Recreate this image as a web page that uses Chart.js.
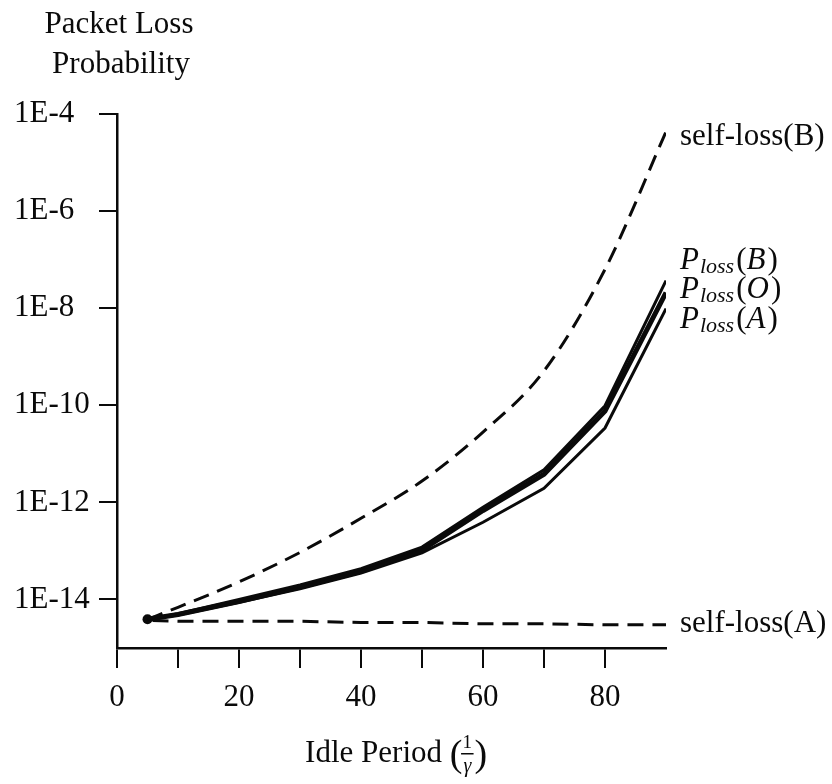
<!DOCTYPE html>
<html>
<head>
<meta charset="utf-8">
<script src="https://cdn.jsdelivr.net/npm/chart.js@4/dist/chart.umd.min.js"></script>
<style>
  html, body { margin: 0; padding: 0; background: #ffffff; }
  #wrap { width: 832px; height: 784px; }
</style>
</head>
<body>
<div id="wrap"><canvas id="chart" width="832" height="784"></canvas></div>
<script>
// Idle period (1/gamma) at which each loss probability was evaluated
const idlePeriod = [5, 10, 20, 30, 40, 50, 60, 70, 80, 90];

// Packet loss probabilities
const plossB    = [3.9e-15, 5.1e-15, 1.0e-14, 2.0e-14, 4.3e-14, 1.2e-13, 7.9e-13, 4.7e-12, 9.8e-11, 3.7e-8];
const plossO    = [3.9e-15, 4.9e-15, 9.1e-15, 1.8e-14, 3.8e-14, 1.05e-13, 6.8e-13, 3.8e-12, 7.6e-11, 2.1e-8];
const plossA    = [3.9e-15, 4.8e-15, 8.7e-15, 1.66e-14, 3.5e-14, 9.1e-14, 3.9e-13, 1.95e-12, 3.4e-11, 9.8e-9];
const selfLossB = [3.9e-15, 6.9e-15, 2.3e-14, 9.3e-14, 4.7e-13, 2.75e-12, 2.8e-11, 5.1e-10, 6.3e-8, 4.3e-5];
const selfLossA = [3.7e-15, 3.55e-15, 3.55e-15, 3.55e-15, 3.35e-15, 3.35e-15, 3.16e-15, 3.16e-15, 3.0e-15, 3.0e-15];

// Axis ticks
const yTickValues = [1e-4, 1e-6, 1e-8, 1e-10, 1e-12, 1e-14];
const yTickLabels = ['1E-4', '1E-6', '1E-8', '1E-10', '1E-12', '1E-14'];
const xTickValues = [0, 10, 20, 30, 40, 50, 60, 70, 80];
const xTickLabels = ['0', '', '20', '', '40', '', '60', '', '80'];

const SERIF = '"Liberation Serif", "Times New Roman", serif';
const TEXT_PX = 31;
const INK = '#0a0a0a';

const pts = arr => idlePeriod.map((x, i) => ({ x: x, y: arr[i] }));

// y-axis block: labels flush left at Y_LABEL_LEFT, axis line at Y_AXIS_X
const Y_AXIS_X = 117, Y_TICK_LEN = 18, Y_LABEL_LEFT = 14;

// curve labels at the right-hand end of each line
const curveLabels = [
  { ds: 0, kind: 'plain', text: 'self-loss(B)', dy: 5 },
  { ds: 1, kind: 'ploss', arg: 'B', dy: -20 },
  { ds: 2, kind: 'ploss', arg: 'O', dy: -3 },
  { ds: 3, kind: 'ploss', arg: 'A', dy: 11 },
  { ds: 4, kind: 'plain', text: 'self-loss(A)', dy: -1 }
];

const textPlugin = {
  id: 'textPlugin',
  afterDraw(chart) {
    const ctx = chart.ctx;
    ctx.save();
    ctx.fillStyle = INK;
    ctx.textBaseline = 'middle';

    // y-axis title
    ctx.font = TEXT_PX + 'px ' + SERIF;
    ctx.textAlign = 'center';
    ctx.fillText('Packet Loss', 119, 25);
    ctx.fillText('Probability', 121, 65);

    // x-axis title with the 1/gamma fraction
    const main = 'Idle Period ';
    const wMain = ctx.measureText(main).width;
    const wParen = ctx.measureText('(').width;
    ctx.font = '19px ' + SERIF;
    const fracW = Math.max(ctx.measureText('1').width, ctx.measureText('\u03B3').width) + 3;
    const total = wMain + 2 * wParen + fracW + 2;
    const tx = 395 - total / 2, ty = 754;
    ctx.textAlign = 'left';
    ctx.font = TEXT_PX + 'px ' + SERIF;
    ctx.fillText(main, tx, ty);
    ctx.font = '38px ' + SERIF;
    ctx.fillText('(', tx + wMain, ty + 2);
    const fx = tx + wMain + wParen + 1 + fracW / 2;
    ctx.font = '19px ' + SERIF;
    ctx.textAlign = 'center';
    ctx.fillText('1', fx, ty - 11);
    ctx.font = 'italic 20px ' + SERIF;
    ctx.fillText('\u03B3', fx, ty + 13);
    ctx.fillRect(fx - fracW / 2, ty - 1, fracW, 1.5);
    ctx.font = '38px ' + SERIF;
    ctx.textAlign = 'left';
    ctx.fillText(')', tx + wMain + wParen + fracW + 2, ty + 2);

    // curve labels
    curveLabels.forEach(lb => {
      const meta = chart.getDatasetMeta(lb.ds);
      const last = meta.data[meta.data.length - 1];
      let x = last.x + 14;
      const y = last.y + lb.dy;
      if (lb.kind === 'plain') {
        ctx.font = TEXT_PX + 'px ' + SERIF;
        ctx.fillText(lb.text, x, y);
      } else {
        ctx.font = 'italic ' + TEXT_PX + 'px ' + SERIF;
        ctx.fillText('P', x, y);
        x += ctx.measureText('P').width + 1;
        ctx.font = 'italic 22px ' + SERIF;
        ctx.fillText('loss', x, y + 7);
        x += ctx.measureText('loss').width + 2;
        ctx.font = TEXT_PX + 'px ' + SERIF;
        ctx.fillText('(', x, y);
        x += ctx.measureText('(').width;
        ctx.font = 'italic ' + TEXT_PX + 'px ' + SERIF;
        ctx.fillText(lb.arg, x, y);
        x += ctx.measureText(lb.arg).width + 2;
        ctx.font = TEXT_PX + 'px ' + SERIF;
        ctx.fillText(')', x, y);
      }
    });
    ctx.restore();
  }
};

const dashed = [16, 9];
const startDot = idlePeriod.map((_, i) => (i === 0 ? 5 : 0));

new Chart(document.getElementById('chart'), {
  type: 'line',
  data: {
    datasets: [
      { label: 'self-loss(B)', data: pts(selfLossB), borderColor: INK, borderWidth: 3, borderDash: dashed, cubicInterpolationMode: 'monotone', pointRadius: 0, fill: false },
      { label: 'Ploss(B)', data: pts(plossB), borderColor: INK, borderWidth: 3, pointRadius: 0, fill: false },
      { label: 'Ploss(O)', data: pts(plossO), borderColor: INK, borderWidth: 5, pointRadius: startDot, pointBackgroundColor: INK, pointBorderWidth: 0, fill: false },
      { label: 'Ploss(A)', data: pts(plossA), borderColor: INK, borderWidth: 3, pointRadius: 0, fill: false },
      { label: 'self-loss(A)', data: pts(selfLossA), borderColor: INK, borderWidth: 3, borderDash: dashed, borderDashOffset: 20, pointRadius: 0, fill: false }
    ]
  },
  options: {
    responsive: false,
    animation: false,
    events: [],
    layout: { padding: { top: 114, right: 166, left: Y_LABEL_LEFT, bottom: 0 } },
    plugins: { legend: { display: false }, tooltip: { enabled: false } },
    scales: {
      x: {
        type: 'linear',
        min: 0,
        max: 90,
        afterBuildTicks: s => { s.ticks = xTickValues.map(v => ({ value: v })); },
        afterFit: s => { s.height = 784 - 648; },
        ticks: {
          callback: (v, i) => xTickLabels[i],
          color: INK,
          font: { family: SERIF, size: TEXT_PX },
          padding: 11,
          maxRotation: 0,
          autoSkip: false
        },
        grid: { drawOnChartArea: false, drawTicks: true, tickLength: 20, color: INK, lineWidth: 2 },
        border: { display: true, color: INK, width: 2.5 }
      },
      y: {
        type: 'logarithmic',
        min: 1e-15,
        max: 1e-4,
        afterBuildTicks: s => { s.ticks = yTickValues.map(v => ({ value: v })); },
        afterFit: s => { s.width = Y_AXIS_X - Y_LABEL_LEFT; },
        ticks: {
          callback: (v, i) => yTickLabels[i],
          color: INK,
          font: { family: SERIF, size: TEXT_PX },
          crossAlign: 'far',
          padding: 8,
          autoSkip: false
        },
        grid: { drawOnChartArea: false, drawTicks: true, tickLength: Y_TICK_LEN, color: INK, lineWidth: 2 },
        border: { display: true, color: INK, width: 2.5 }
      }
    }
  },
  plugins: [textPlugin]
});
</script>
</body>
</html>
